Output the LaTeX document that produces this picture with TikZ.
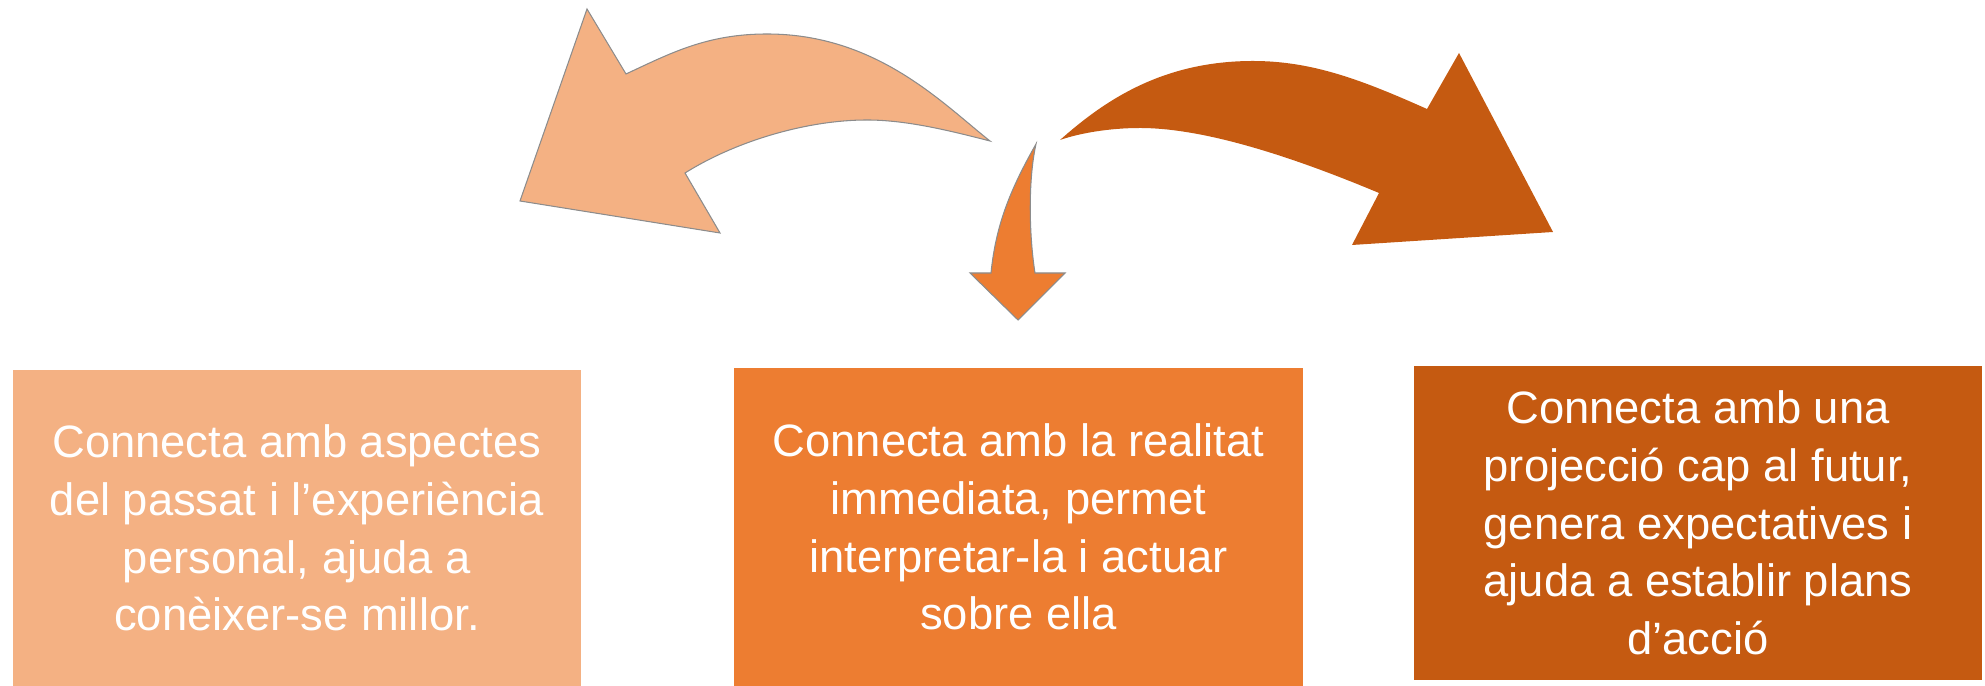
\documentclass[tikz,border=0pt]{standalone}
\usepackage{fontspec}
\setmainfont{Liberation Sans}
\definecolor{cLight}{HTML}{F4B183}
\definecolor{cMid}{HTML}{ED7D31}
\definecolor{cDark}{HTML}{C55A11}
\tikzset{
  infobox/.style={inner sep=0pt, outer sep=0pt, text=white, align=center,
    font=\fontsize{12.9}{16.4}\selectfont},
  curvearrow/.style={draw=black!45, line width=0.3pt, line join=miter}
}
\begin{document}
\begin{tikzpicture}[x=0.01cm,y=-0.01cm]
\useasboundingbox (0,0) rectangle (1985,686);
% boxes
\node[infobox, fill=cLight, minimum width=5.683cm, minimum height=3.16cm] (past) at (296.9,528)
  {Connecta amb aspectes\\del passat i l’experiència\\personal, ajuda a\\conèixer-se millor.};
\node[infobox, fill=cMid, minimum width=5.69cm, minimum height=3.18cm] (present) at (1018.5,527)
  {Connecta amb la realitat\\immediata, permet\\interpretar-la i actuar\\sobre ella};
\node[infobox, fill=cDark, minimum width=5.68cm, minimum height=3.14cm] (future) at (1698,523)
  {Connecta amb una\\projecció cap al futur,\\genera expectatives i\\ajuda a establir plans\\d’acció};
% left curved arrow
\filldraw[fill=cLight, curvearrow] (990,141)
  .. controls (943,104) and (877,34) .. (767,34)
  .. controls (707,34) and (671,53) .. (626,74)
  -- (587,9) -- (520,201) -- (720,233) -- (685,173)
  .. controls (736,141) and (807,120) .. (867,120)
  .. controls (907,120) and (951,131) .. (990,141)
  -- cycle;
% middle arrow
\filldraw[fill=cMid, curvearrow] (1036,144)
  .. controls (1011.5,187.5) and (996,223) .. (991,273)
  -- (970,273) -- (1018,320) -- (1065,273) -- (1035,273)
  .. controls (1029,235) and (1028,180) .. (1036,144)
  -- cycle;
% right curved arrow
\fill[cDark] (1060,140)
  .. controls (1105,100) and (1163,61) .. (1253,61)
  .. controls (1313,61) and (1363,80.5) .. (1427,109)
  -- (1459,53) -- (1553,232) -- (1352,245) -- (1379,193)
  .. controls (1305,162) and (1210,128) .. (1140,128)
  .. controls (1110,128) and (1080,133) .. (1060,140)
  -- cycle;
\end{tikzpicture}
\end{document}
